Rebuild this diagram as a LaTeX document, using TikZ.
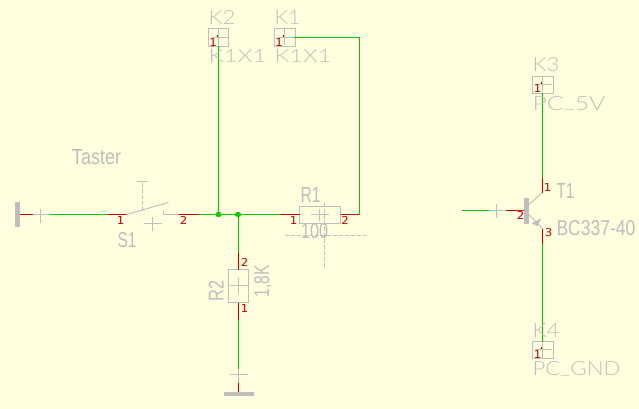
\documentclass[tikz,border=0pt]{standalone}
\usepackage{fontspec}
\usepackage{graphicx}
\setmainfont{Liberation Sans}
\newfontfamily\thinfont{Lato Light}
\newfontfamily\pinfont{DejaVu Sans}
\definecolor{bgc}{HTML}{FFFFDF}
\definecolor{grayc}{HTML}{BEBEBE}
\definecolor{redc}{HTML}{C80000}
\definecolor{greenc}{HTML}{00C800}
\tikzset{
  wire/.style={draw=greenc,line width=1pt},
  pin/.style={draw=redc,line width=1pt},
  stub/.style={draw=grayc,line width=0.9pt},
  dashstub/.style={draw=grayc,line width=0.9pt,dash pattern=on 4pt off 2pt},
  part/.style={draw=grayc,line width=1pt,fill=none,inner sep=0pt,outer sep=0pt},
  bar/.style={fill=grayc,draw=none,inner sep=0pt,outer sep=0pt},
  lab/.style={text=grayc,inner sep=0pt,outer sep=0pt},
  pinlab/.style={text=redc,inner sep=0pt,outer sep=0pt},
  junction/.style={ellipse,fill=greenc,draw=none,minimum width=6.5pt,minimum height=5pt,inner sep=0pt}
}
\newcommand{\lowbar}{\raisebox{0.12em}{\_}}
\newcommand{\vlab}[6][]{\node[lab,#1] (#2) at (#3) {\resizebox{#4pt}{#5pt}{\thinfont #6}};}
\newcommand{\slab}[6][]{\node[lab,#1] (#2) at (#3) {\resizebox{#4pt}{#5pt}{#6}};}
\newcommand{\plab}[3]{\node[pinlab] (#1) at (#2) {\resizebox{7.5pt}{8pt}{\pinfont #3}};}
\newcommand{\crossat}[3]{\draw[stub] ($(#1)+(-#2,0)$) -- ($(#1)+(#2,0)$) ($(#1)+(0,-#3)$) -- ($(#1)+(0,#3)$);}
\usetikzlibrary{calc,shapes.geometric}
\begin{document}
\begin{tikzpicture}[x=1pt,y=-1pt]
\path[use as bounding box,fill=bgc] (0,0) rectangle (639,409);
\begin{scope}[shift={(0.5,0.5)}]

% connectors K-headers
\node[part,minimum width=20pt,minimum height=18pt] (K2) at (218,37) {};
\node[part,minimum width=21pt,minimum height=18pt] (K1) at (284.5,37) {};
\node[part,minimum width=21pt,minimum height=17pt] (K3) at (542.5,84.5) {};
\node[part,minimum width=21pt,minimum height=17pt] (K4) at (542.5,349.5) {};
\foreach \cx/\cy in {218/37,284/37,542/84,542/349}{
  \draw[stub] ($(\cx,\cy)+(-7,0)$) -- ($(\cx,\cy)+(9,0)$) ($(\cx,\cy)+(0,-8)$) -- ($(\cx,\cy)+(0,8)$);
  \fill[redc] ($(\cx,\cy)+(-2,-2.5)$) rectangle ($(\cx,\cy)+(-0.5,-0.5)$);
}

% resistors
\node[part,minimum width=41pt,minimum height=17pt] (R1) at (319.5,214.5) {};
\node[part,minimum width=20pt,minimum height=33pt] (R2) at (238,285.5) {};
\coordinate (R1c) at (319,214);
\coordinate (R2c) at (238,285);
\crossat{R1c}{9}{6}
\crossat{R2c}{9}{8}
\draw[dashstub] (324,202) coordinate (r1a) -- (324,268) coordinate (r1b);
\draw[dashstub] (284,235) coordinate (r1c) -- (365,235) coordinate (r1d);

% coordinates
\node[junction] (J1) at (218,214) {};
\node[junction] (J2) at (237.5,214) {};
\coordinate (K1r) at (293,37);
\coordinate (K1c) at (359,37);
\coordinate (R1e) at (340,214);
\coordinate (R1p) at (359,214);
\coordinate (R1w) at (280,214);
\coordinate (S2p) at (197,214);
\coordinate (S2s) at (178,214);
\coordinate (S2b) at (162.5,214);
\coordinate (S2t) at (162.5,210);
\coordinate (S1s) at (126,214);
\coordinate (S1p) at (107,214);
\coordinate (B1g) at (49,214);
\coordinate (B1s) at (32,214);
\coordinate (B1e) at (20,214);
\coordinate (R2tw) at (238,252);
\coordinate (R2bw) at (238,319);
\coordinate (G2g) at (238,368);
\coordinate (G2s) at (238,382);
\coordinate (G2e) at (238,391);

% ground bars
\node[bar,minimum width=5pt,minimum height=25pt] (Gnd1) at (17,214) {};
\node[bar,minimum width=30pt,minimum height=4pt] (Gnd2) at (238,393) {};
\crossat{$(40,215)$}{0}{7}
\crossat{$(238,374)$}{9}{0}

% wires left part
\draw[pin] (Gnd1.east |- B1e) -- (B1s);
\draw[stub] (B1s) -- (B1g);
\draw[wire] (B1g) -- (S1p);
\draw[pin] (S1p) -- (S1s);
\draw[stub] (S1s) -- (168,202) coordinate (blade);
\draw[dashstub] (142,210) -- (142,181) coordinate (plunger);
\draw[stub] ($(plunger)+(-5.5,0)$) -- ($(plunger)+(5.5,0)$);
\draw[stub] (S2t) -- (S2b) -- (S2s);
\draw[pin] (S2s) -- (S2p);
\draw[wire] (S2p) -- (J1) -- (J2) -- (R1w);
\draw[pin] (R1w) -- (R1.west |- R1w);
\draw[pin] (R1e) -- (R1p);
\draw[wire] (R1p) -- (K1c) -- (K1r);
\draw[wire] (J1) -- (J1 |- K2.south);
\draw[wire] (R2tw |- J2) -- (R2tw);
\draw[pin] (R2tw) -- (R2.north);
\draw[pin] (R2.south) -- (R2bw);
\draw[wire] (R2bw) -- (G2g);
\draw[stub] (G2g) -- (G2s);
\draw[pin] (G2s) -- (G2e);
\crossat{$(152,223)$}{9}{7}

% transistor
\node[bar,minimum width=4.5pt,minimum height=26pt] (T1) at (526,210) {};
\coordinate (Tbw) at (461,210);
\coordinate (Tbg) at (488,210);
\coordinate (Tbs) at (505,210);
\coordinate (Cp) at (542,192);
\coordinate (Ct) at (542,177);
\coordinate (Ep) at (542,228);
\coordinate (Eb) at (542,243);
\draw[wire] (Tbw) -- (Tbg);
\draw[stub] (Tbg) -- (Tbs);
\draw[pin] (Tbs) -- (T1.west);
\crossat{$(496,210)$}{0}{7}
\draw[stub] (T1.east |- 0,204) -- (Cp);
\draw[stub] (T1.east |- 0,214) -- (Ep);
\fill[grayc] (540.7,217.7) -- (531,222.7) -- (537,225.7) -- cycle;
\draw[pin] (Cp) -- (Ct);
\draw[pin] (Ep) -- (Eb);
\draw[wire] (Ct) -- (Ct |- K3.south);
\draw[wire] (Eb) -- (Eb |- K4.north);

% grey labels
\slab{Taster}{96,156.5}{49}{15}{Taster}
\slab{S1}{126.5,239.5}{19}{15}{S1}
\slab{R1l}{310,194.5}{20}{15}{R1}
\slab{Rv}{314,231}{27}{15}{100}
\slab[rotate=90]{R2l}{215.5,290.5}{21}{15}{R2}
\slab[rotate=90]{R2v}{262.5,281}{32}{15}{1,8K}
\slab{T1l}{565,190.5}{18}{15}{T1}
\slab{T1v}{595.5,227.5}{79}{15}{BC337-40}
\vlab{K2l}{221.5,17.5}{27}{14}{K2}
\vlab{K1l}{287,17.5}{26}{14}{K1}
\vlab{K2v}{237,56}{58}{13}{K1X1}
\vlab{K1v}{302.5,56}{57}{13}{K1X1}
\vlab{K3l}{545.5,64}{27}{14}{K3}
\vlab{K3v}{568.5,103}{73}{14}{PC\lowbar 5V}
\vlab{K4l}{545.5,330}{27}{14}{K4}
\vlab{K4v}{576,368.5}{88}{14}{PC\lowbar GND}

% pin labels
\plab{p1}{120,220}{1}
\plab{p2}{183,220}{2}
\plab{p3}{293,220}{1}
\plab{p4}{344.5,220}{2}
\plab{p5}{244,262}{2}
\plab{p6}{244,308}{1}
\plab{p7}{212.5,42}{1}
\plab{p8}{278.5,42}{1}
\plab{p9}{537,88.5}{1}
\plab{p10}{537,354}{1}
\plab{p11}{547,187}{1}
\plab{p12}{520,215}{2}
\plab{p13}{548,232}{3}
\end{scope}
\end{tikzpicture}
\end{document}
